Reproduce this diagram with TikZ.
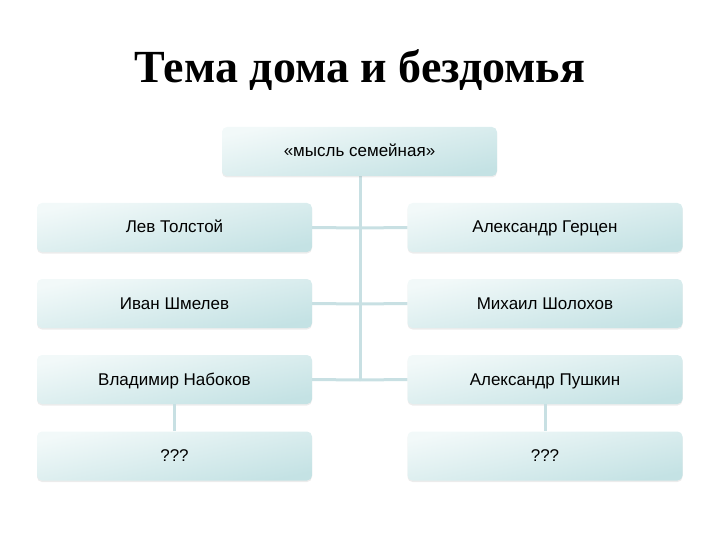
\documentclass[tikz,border=0pt]{standalone}
\usepackage{fontspec}
\setmainfont{Liberation Serif}
\newfontfamily\boxfont{Liberation Sans}
\usetikzlibrary{shadows,fadings}
\definecolor{boxtop}{HTML}{F2F9F9}
\definecolor{boxbot}{HTML}{C4E2E4}
\definecolor{linkcol}{HTML}{C8E0E3}
\tikzset{
  pbox/.style={rounded corners=5pt, minimum width=275pt, minimum height=49pt,
    inner sep=0pt, text height=12pt, text depth=1pt, draw=none,
    top color=boxtop, bottom color=boxbot, shading angle=12,
    drop shadow={shadow xshift=0pt, shadow yshift=-1.5pt, opacity=0.15, fill=gray},
    font=\boxfont\fontsize{17}{20}\selectfont, text=black},
  link/.style={draw=linkcol, line width=3pt}
}
\begin{document}
\begin{tikzpicture}[x=1pt,y=-1pt]
\useasboundingbox (0,0) rectangle (720,540);
\node[font=\bfseries\fontsize{46}{52}\selectfont, anchor=base, inner sep=0pt] (title) at (360,83) {Тема дома и бездомья};
\coordinate (j0) at (360,176);
\coordinate (j1) at (360,228);
\coordinate (j2) at (360,304);
\coordinate (j3) at (360,380);
\draw[link] (j0) -- (j3);
\node[pbox] (top) at (359.5,151.5) {«мысль семейная»};
\node[pbox] (l1) at (174.5,227.5) {Лев Толстой};
\node[pbox] (r1) at (545,227.5) {Александр Герцен};
\node[pbox] (l2) at (174.5,303.5) {Иван Шмелев};
\node[pbox] (r2) at (545,303.5) {Михаил Шолохов};
\node[pbox] (l3) at (174.5,379.5) {Владимир Набоков};
\node[pbox] (r3) at (545,379.5) {Александр Пушкин};
\node[pbox] (l4) at (174.5,456) {???};
\node[pbox] (r4) at (545,456) {???};
\draw[link] (l1.east) -- (j1) -- (r1.west);
\draw[link] (l2.east) -- (j2) -- (r2.west);
\draw[link] (l3.east) -- (j3) -- (r3.west);
\draw[link] (l3.south) -- (l4.north);
\draw[link] (r3.south) -- (r4.north);
\end{tikzpicture}
\end{document}
